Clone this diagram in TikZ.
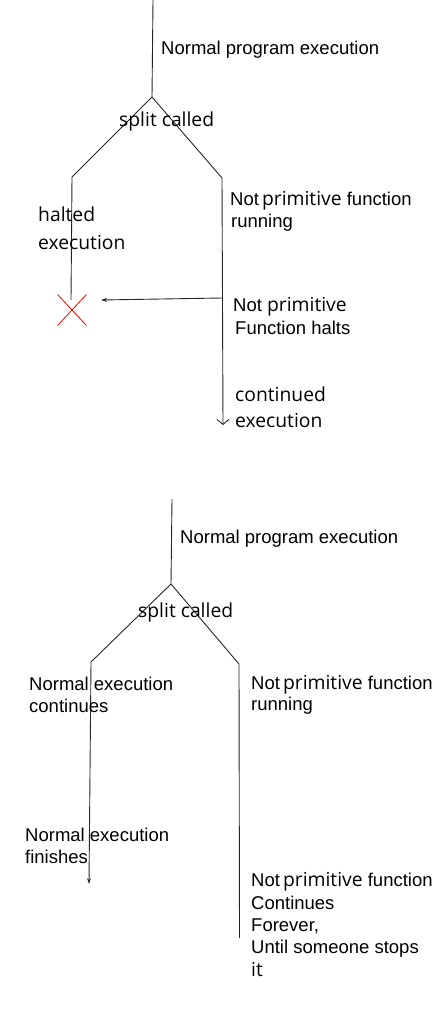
\documentclass[tikz,border=0pt]{standalone}
\usepackage{fontspec}
\setmainfont{Liberation Sans}
\newfontfamily\segoe{Open Sans}
\newcommand\segf{\segoe\fontsize{19.3}{22}\selectfont}
\usetikzlibrary{arrows.meta,shapes.misc}
\begin{document}
\begin{tikzpicture}[x=1pt,y=-1pt,
  ln/.style={line width=0.9pt,draw=black!85},
  lbl/.style={anchor=base west,inner sep=0pt,font=\fontsize{18.5}{22}\selectfont},
  slbl/.style={anchor=base west,inner sep=0pt,font=\segf},
  tipf/.style={-{Stealth[length=6pt,width=4pt]}},
  tipo/.style={-{Straight Barb[length=5pt,width=12pt]}}]
\useasboundingbox (0,0) rectangle (435,1032);
% ---------- top diagram ----------
\coordinate (a0) at (153,0);
\coordinate (a1) at (152,97);
\coordinate (aL) at (72,177);
\coordinate (aR) at (222,178);
\coordinate (aLe) at (71,300);
\coordinate (aRe) at (223,425);
\coordinate (aH) at (222,298);
\coordinate (aHe) at (101,300);
\node[cross out,draw=red,line width=0.8pt,minimum width=28pt,minimum height=30pt,inner sep=0pt] (halt) at (72,310) {};
\draw[ln] (a0) -- (a1) -- (aL) -- (aLe);
\draw[ln] (a1) -- (aR);
\draw[ln,tipo] (aR) -- (aRe);
\draw[ln,tipf] (aH) -- (aHe);
\node[lbl] (t1) at (161,55) {Normal program execution};
\node[slbl] (t2) at (119,127) {split called};
\node[lbl] (t3) at (230,206) {Not\,{\segf primitive} function};
\node[lbl] (t4) at (231,227) {running};
\node[slbl] (t5) at (38,222) {halted};
\node[slbl] (t6) at (38,249) {execution};
\node[lbl] (t7) at (233,311) {Not {\segf primitive}};
\node[lbl] (t8) at (235,334) {Function halts};
\node[slbl] (t9) at (235,401) {continued};
\node[slbl] (t10) at (235,427) {execution};
% ---------- bottom diagram ----------
\coordinate (b0) at (172,499);
\coordinate (b1) at (171,584);
\coordinate (bL) at (91,662);
\coordinate (bR) at (239,664);
\coordinate (bLe) at (89,884);
\coordinate (bRe) at (239.5,938);
\draw[ln] (b0) -- (b1) -- (bL);
\draw[ln] (b1) -- (bR) -- (bRe);
\draw[ln,tipf] (bL) -- (bLe);
\node[lbl] (u1) at (180,543) {Normal program execution};
\node[slbl] (u2) at (138,617) {split called};
\node[lbl] (u3) at (29,690) {Normal execution};
\node[lbl] (u4) at (29,712) {continues};
\node[lbl] (u5) at (251,689) {Not\,{\segf primitive} function};
\node[lbl] (u6) at (251,710) {running};
\node[lbl] (u7) at (25,841) {Normal execution};
\node[lbl] (u8) at (25,863) {finishes};
\node[lbl] (u9) at (251,886) {Not\,{\segf primitive} function};
\node[lbl] (u10) at (251,909) {Continues};
\node[lbl] (u11) at (251,931) {Forever,};
\node[lbl] (u12) at (251,953) {Until someone stops};
\node[slbl] (u13) at (251,976) {it};
\end{tikzpicture}
\end{document}
